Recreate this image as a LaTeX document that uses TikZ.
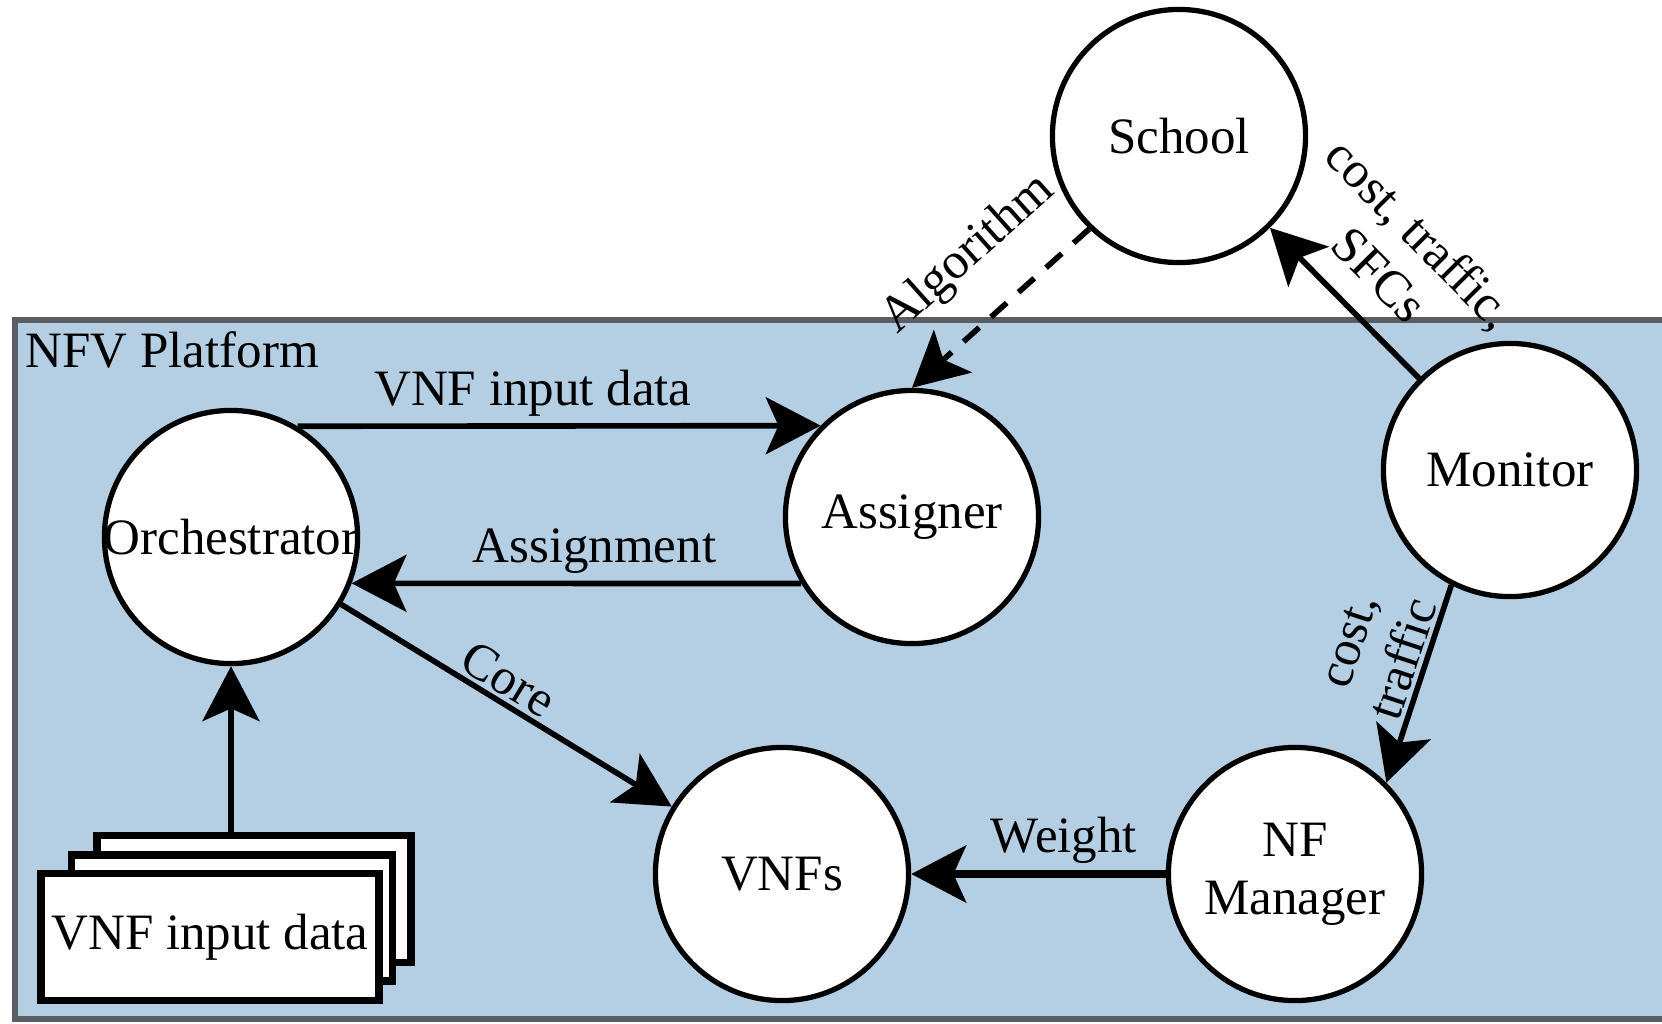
\documentclass[tikz,border=0pt]{standalone}
\usepackage{fontspec}
\setmainfont{Liberation Serif}
\usetikzlibrary{arrows.meta}
\definecolor{platformfill}{RGB}{180,207,228}
\definecolor{platformline}{RGB}{88,94,100}
\tikzset{
  unit/.style={circle, draw, line width=1.5pt, fill=white, minimum size=2.53cm,
    inner sep=0pt, align=center},
  flow/.style={line width=1.6pt, -{Stealth[length=15.6pt,width=16.2pt,inset=3.6pt]}},
  datasheet/.style={draw, line width=2.2pt, fill=white, inner sep=0pt},
  lbl/.style={align=center, inner sep=2pt}
}
\begin{document}
\begin{tikzpicture}[x=0.01cm, y=-0.01cm, font=\fontsize{14.5}{16.5}\selectfont]
\clip (0,0) rectangle (1662,1023);
\fill[white] (0,0) rectangle (1662,1023);

% platform area, running off the right edge
\draw[platformline, line width=1.8pt, fill=platformfill] (15,320) rectangle (1720,1019);
\node[anchor=north west, inner sep=0pt] (plat) at (25,331) {NFV Platform};

% stacked input documents
\node[datasheet, minimum width=3.14cm, minimum height=1.27cm] (st3) at (254,899) {};
\node[datasheet, minimum width=3.21cm, minimum height=1.26cm] (st2) at (232,918) {};
\node[datasheet, minimum width=3.38cm, minimum height=1.27cm] (st1) at (210,937) {VNF input data};

% components
\node[unit] (sch)  at (1179,136) {School};
\node[unit] (mon)  at (1510,470) {Monitor};
\node[unit] (asg)  at (912,517)  {Assigner};
\node[unit] (orch) at (231,537)  {\makebox[0pt]{Orchestrator}};
\node[unit] (vnfs) at (782,874)  {VNFs};
\node[unit] (nfm)  at (1295,874) {NF\\Manager};

% data flows
\draw[flow] (orch.59) -- node[lbl, above, pos=.45] {VNF input data} (asg.135);
\draw[flow] (asg.211) -- node[lbl, above, pos=.46] {Assignment} (orch.-21);
\draw[flow] (orch) -- node[lbl, sloped, above, inner sep=1pt, pos=.47] {Core} (vnfs);
\draw[flow, line width=2.1pt] (nfm) -- node[lbl, above, pos=.4] {Weight} (vnfs);
\draw[flow] (mon.243) -- node[lbl, sloped, above, inner sep=1pt, pos=.41] {cost,\\traffic} (nfm.45);
\draw[flow] (mon) -- node[lbl, sloped, above=6pt, inner sep=1pt, pos=.48] {cost, traffic,\\SFCs} (sch);
\draw[flow, dash pattern=on 6pt off 4.5pt] (sch.226) -- node[lbl, sloped, above=8pt, pos=.45] {Algorithm} (asg.north);
\draw[flow] (orch.south |- st3.north) -- (orch.south);
\end{tikzpicture}
\end{document}
